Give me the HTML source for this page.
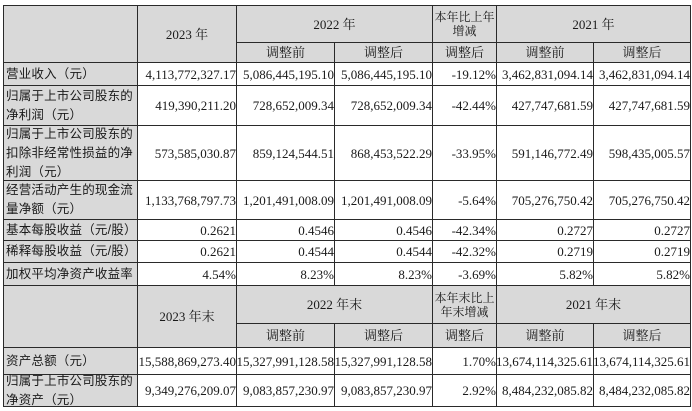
<!DOCTYPE html>
<html><head><meta charset="utf-8"><style>
body{margin:0;width:692px;height:411px;background:#fff;position:relative;overflow:hidden;font-family:"Liberation Serif","Noto Serif CJK SC",serif;color:#1a1a1a}
.c{position:absolute;box-sizing:border-box;border:1.3px solid #2a2a2a;display:flex;align-items:center;font-size:13px;line-height:15px;white-space:nowrap}
.g{background:#d9d9d9}
.l{justify-content:flex-start;padding-left:2px;font-family:"Liberation Sans","Noto Sans CJK SC",sans-serif;font-size:12.5px;line-height:19px;white-space:normal;letter-spacing:0.2px}
.r{justify-content:flex-end;padding-right:0}
.m{justify-content:center;text-align:center}
.s{font-size:12px;line-height:14px}
</style></head><body>
<!-- header 1 -->
<div class="c g" style="left:3px;top:5px;width:135px;height:58px"></div>
<div class="c g m" style="left:137px;top:5px;width:100px;height:58px">2023 年</div>
<div class="c g m" style="left:236px;top:5px;width:197px;height:38px">2022 年</div>
<div class="c g m" style="left:236px;top:42px;width:99px;height:21px">调整前</div>
<div class="c g m" style="left:334px;top:42px;width:99px;height:21px">调整后</div>
<div class="c g m s" style="left:432px;top:5px;width:65px;height:38px">本年比上年<br>增减</div>
<div class="c g m" style="left:432px;top:42px;width:65px;height:21px">调整后</div>
<div class="c g m" style="left:496px;top:5px;width:195px;height:38px">2021 年</div>
<div class="c g m" style="left:496px;top:42px;width:98px;height:21px">调整前</div>
<div class="c g m" style="left:593px;top:42px;width:98px;height:21px">调整后</div>

<!-- rows -->
<div class="c g l" style="left:3px;top:62px;width:135px;height:24px">营业收入（元）</div>
<div class="c r" style="left:137px;top:62px;width:100px;height:24px">4,113,772,327.17</div>
<div class="c r" style="left:236px;top:62px;width:99px;height:24px">5,086,445,195.10</div>
<div class="c r" style="left:334px;top:62px;width:99px;height:24px">5,086,445,195.10</div>
<div class="c r" style="left:432px;top:62px;width:65px;height:24px">-19.12%</div>
<div class="c r" style="left:496px;top:62px;width:98px;height:24px">3,462,831,094.14</div>
<div class="c r" style="left:593px;top:62px;width:98px;height:24px">3,462,831,094.14</div>

<div class="c g l" style="left:3px;top:85px;width:135px;height:41px">归属于上市公司股东的净利润（元）</div>
<div class="c r" style="left:137px;top:85px;width:100px;height:41px">419,390,211.20</div>
<div class="c r" style="left:236px;top:85px;width:99px;height:41px">728,652,009.34</div>
<div class="c r" style="left:334px;top:85px;width:99px;height:41px">728,652,009.34</div>
<div class="c r" style="left:432px;top:85px;width:65px;height:41px">-42.44%</div>
<div class="c r" style="left:496px;top:85px;width:98px;height:41px">427,747,681.59</div>
<div class="c r" style="left:593px;top:85px;width:98px;height:41px">427,747,681.59</div>

<div class="c g l" style="left:3px;top:125px;width:135px;height:56px">归属于上市公司股东的扣除非经常性损益的净利润（元）</div>
<div class="c r" style="left:137px;top:125px;width:100px;height:56px">573,585,030.87</div>
<div class="c r" style="left:236px;top:125px;width:99px;height:56px">859,124,544.51</div>
<div class="c r" style="left:334px;top:125px;width:99px;height:56px">868,453,522.29</div>
<div class="c r" style="left:432px;top:125px;width:65px;height:56px">-33.95%</div>
<div class="c r" style="left:496px;top:125px;width:98px;height:56px">591,146,772.49</div>
<div class="c r" style="left:593px;top:125px;width:98px;height:56px">598,435,005.57</div>

<div class="c g l" style="left:3px;top:180px;width:135px;height:40px">经营活动产生的现金流量净额（元）</div>
<div class="c r" style="left:137px;top:180px;width:100px;height:40px">1,133,768,797.73</div>
<div class="c r" style="left:236px;top:180px;width:99px;height:40px">1,201,491,008.09</div>
<div class="c r" style="left:334px;top:180px;width:99px;height:40px">1,201,491,008.09</div>
<div class="c r" style="left:432px;top:180px;width:65px;height:40px">-5.64%</div>
<div class="c r" style="left:496px;top:180px;width:98px;height:40px">705,276,750.42</div>
<div class="c r" style="left:593px;top:180px;width:98px;height:40px">705,276,750.42</div>

<div class="c g l" style="left:3px;top:219px;width:135px;height:22px">基本每股收益（元/股）</div>
<div class="c r" style="left:137px;top:219px;width:100px;height:22px">0.2621</div>
<div class="c r" style="left:236px;top:219px;width:99px;height:22px">0.4546</div>
<div class="c r" style="left:334px;top:219px;width:99px;height:22px">0.4546</div>
<div class="c r" style="left:432px;top:219px;width:65px;height:22px">-42.34%</div>
<div class="c r" style="left:496px;top:219px;width:98px;height:22px">0.2727</div>
<div class="c r" style="left:593px;top:219px;width:98px;height:22px">0.2727</div>

<div class="c g l" style="left:3px;top:240px;width:135px;height:23px">稀释每股收益（元/股）</div>
<div class="c r" style="left:137px;top:240px;width:100px;height:23px">0.2621</div>
<div class="c r" style="left:236px;top:240px;width:99px;height:23px">0.4544</div>
<div class="c r" style="left:334px;top:240px;width:99px;height:23px">0.4544</div>
<div class="c r" style="left:432px;top:240px;width:65px;height:23px">-42.32%</div>
<div class="c r" style="left:496px;top:240px;width:98px;height:23px">0.2719</div>
<div class="c r" style="left:593px;top:240px;width:98px;height:23px">0.2719</div>

<div class="c g l" style="left:3px;top:262px;width:135px;height:24px">加权平均净资产收益率</div>
<div class="c r" style="left:137px;top:262px;width:100px;height:24px">4.54%</div>
<div class="c r" style="left:236px;top:262px;width:99px;height:24px">8.23%</div>
<div class="c r" style="left:334px;top:262px;width:99px;height:24px">8.23%</div>
<div class="c r" style="left:432px;top:262px;width:65px;height:24px">-3.69%</div>
<div class="c r" style="left:496px;top:262px;width:98px;height:24px">5.82%</div>
<div class="c r" style="left:593px;top:262px;width:98px;height:24px">5.82%</div>

<!-- header 2 -->
<div class="c g" style="left:3px;top:285px;width:135px;height:63px"></div>
<div class="c g m" style="left:137px;top:285px;width:100px;height:63px">2023 年末</div>
<div class="c g m" style="left:236px;top:285px;width:197px;height:39px">2022 年末</div>
<div class="c g m" style="left:236px;top:323px;width:99px;height:25px">调整前</div>
<div class="c g m" style="left:334px;top:323px;width:99px;height:25px">调整后</div>
<div class="c g m s" style="left:432px;top:285px;width:65px;height:39px">本年末比上<br>年末增减</div>
<div class="c g m" style="left:432px;top:323px;width:65px;height:25px">调整后</div>
<div class="c g m" style="left:496px;top:285px;width:195px;height:39px">2021 年末</div>
<div class="c g m" style="left:496px;top:323px;width:98px;height:25px">调整前</div>
<div class="c g m" style="left:593px;top:323px;width:98px;height:25px">调整后</div>

<div class="c g l" style="left:3px;top:347px;width:135px;height:28px">资产总额（元）</div>
<div class="c r" style="left:137px;top:347px;width:100px;height:28px">15,588,869,273.40</div>
<div class="c r" style="left:236px;top:347px;width:99px;height:28px">15,327,991,128.58</div>
<div class="c r" style="left:334px;top:347px;width:99px;height:28px">15,327,991,128.58</div>
<div class="c r" style="left:432px;top:347px;width:65px;height:28px">1.70%</div>
<div class="c r" style="left:496px;top:347px;width:98px;height:28px">13,674,114,325.61</div>
<div class="c r" style="left:593px;top:347px;width:98px;height:28px">13,674,114,325.61</div>

<div class="c g l" style="left:3px;top:374px;width:135px;height:33px">归属于上市公司股东的净资产（元）</div>
<div class="c r" style="left:137px;top:374px;width:100px;height:33px">9,349,276,209.07</div>
<div class="c r" style="left:236px;top:374px;width:99px;height:33px">9,083,857,230.97</div>
<div class="c r" style="left:334px;top:374px;width:99px;height:33px">9,083,857,230.97</div>
<div class="c r" style="left:432px;top:374px;width:65px;height:33px">2.92%</div>
<div class="c r" style="left:496px;top:374px;width:98px;height:33px">8,484,232,085.82</div>
<div class="c r" style="left:593px;top:374px;width:98px;height:33px">8,484,232,085.82</div>
</body></html>
